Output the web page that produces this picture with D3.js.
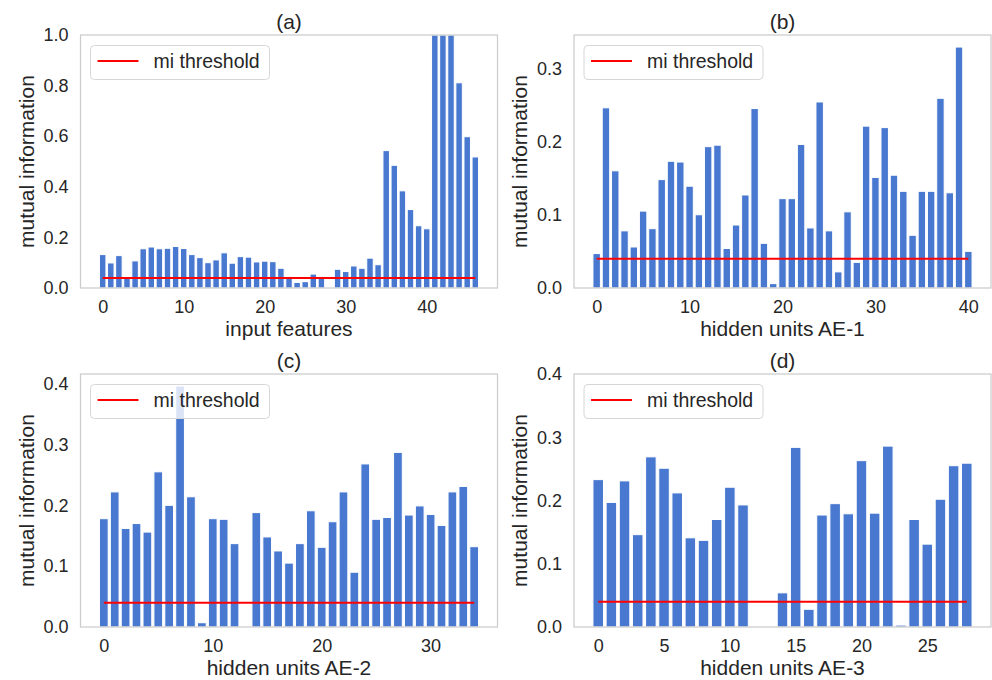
<!DOCTYPE html>
<html>
<head>
<meta charset="utf-8">
<script src="https://cdn.jsdelivr.net/npm/d3@7"></script>
<style>
  body { margin: 0; background: #fff; }
  text { font-family: "Liberation Sans", Arial, sans-serif; fill: #262626; }
</style>
</head>
<body>
<div id="plot"></div>
<script>
// mutual information per input feature / hidden unit
var miInput = [0.132, 0.099, 0.128, 0.041, 0.107, 0.155, 0.162, 0.155, 0.157, 0.164,
               0.156, 0.132, 0.120, 0.100, 0.111, 0.139, 0.098, 0.124, 0.122, 0.103,
               0.106, 0.104, 0.078, 0.045, 0.022, 0.025, 0.055, 0.045, 0.0, 0.074,
               0.065, 0.087, 0.078, 0.118, 0.092, 0.543, 0.485, 0.384, 0.310, 0.246,
               0.234, 1.0, 1.0, 1.0, 0.811, 0.598, 0.518];
var miAE1 = [0.047, 0.246, 0.160, 0.078, 0.056, 0.105, 0.081, 0.148, 0.173, 0.172,
             0.139, 0.100, 0.193, 0.195, 0.054, 0.086, 0.127, 0.245, 0.061, 0.006,
             0.122, 0.122, 0.196, 0.082, 0.254, 0.078, 0.022, 0.104, 0.035, 0.221,
             0.151, 0.219, 0.154, 0.132, 0.072, 0.132, 0.132, 0.259, 0.130, 0.329,
             0.050];
var miAE2 = [0.178, 0.222, 0.162, 0.170, 0.156, 0.255, 0.200, 0.396, 0.214, 0.007,
             0.178, 0.177, 0.137, 0.0, 0.188, 0.148, 0.125, 0.105, 0.137, 0.191,
             0.131, 0.173, 0.222, 0.090, 0.268, 0.177, 0.180, 0.287, 0.184, 0.199,
             0.185, 0.167, 0.222, 0.231, 0.132];
var miAE3 = [0.233, 0.197, 0.231, 0.146, 0.269, 0.251, 0.212, 0.141, 0.137, 0.170,
             0.221, 0.193, 0.0, 0.0, 0.054, 0.284, 0.028, 0.177, 0.195, 0.179,
             0.263, 0.180, 0.286, 0.003, 0.170, 0.131, 0.202, 0.255, 0.259];
var miThreshold = 0.04;

var xTicksA = [0, 10, 20, 30, 40];
var xTicksB = [0, 10, 20, 30, 40];
var xTicksC = [0, 10, 20, 30];
var xTicksD = [0, 5, 10, 15, 20, 25];
var yTicksA = [0, 0.2, 0.4, 0.6, 0.8, 1.0];
var yTicksB = [0, 0.1, 0.2, 0.3];
var yTicksC = [0, 0.1, 0.2, 0.3, 0.4];
var yTicksD = [0, 0.1, 0.2, 0.3, 0.4];

var width = 992, height = 680;
var pw = 417, ph = 253;
var barColor = "#4878d0";

var svg = d3.select("#plot")
  .append("svg")
    .attr("width", width)
    .attr("height", height);

var panels = [
  {title: "(a)", values: miInput, xTicks: xTicksA, yTicks: yTicksA, yMax: 1.0,  xLabel: "input features",   left: 80.5, top: 35},
  {title: "(b)", values: miAE1,   xTicks: xTicksB, yTicks: yTicksB, yMax: null, xLabel: "hidden units AE-1", left: 574,  top: 35},
  {title: "(c)", values: miAE2,   xTicks: xTicksC, yTicks: yTicksC, yMax: null, xLabel: "hidden units AE-2", left: 80.5, top: 374},
  {title: "(d)", values: miAE3,   xTicks: xTicksD, yTicks: yTicksD, yMax: 0.4,  xLabel: "hidden units AE-3", left: 574,  top: 374}
];

panels.forEach(function(p, k) {
  var n = p.values.length;
  var span = (n - 1) + 0.8;
  var x = d3.scaleLinear()
    .domain([-0.4 - 0.05 * span, n - 1 + 0.4 + 0.05 * span])
    .range([0, pw]);
  var yMax = p.yMax != null ? p.yMax : d3.max(p.values) * 1.05;
  var y = d3.scaleLinear()
    .domain([0, yMax])
    .range([ph, 0]);

  var g = svg.append("g")
    .attr("transform", "translate(" + p.left + "," + p.top + ")");

  g.append("clipPath")
    .attr("id", "clip" + k)
    .append("rect")
      .attr("width", pw)
      .attr("height", ph);

  // bars
  g.append("g")
    .attr("clip-path", "url(#clip" + k + ")")
    .selectAll("rect")
    .data(p.values)
    .enter()
    .append("rect")
      .attr("x", function(d, i) { return x(i - 0.4); })
      .attr("y", function(d) { return y(d); })
      .attr("width", function(d, i) { return x(i + 0.4) - x(i - 0.4); })
      .attr("height", function(d) { return y(0) - y(d); })
      .style("fill", barColor)
      .style("stroke", "#fff")
      .style("stroke-width", 1);

  // threshold
  g.append("line")
    .attr("x1", x(0))
    .attr("x2", x(n - 1))
    .attr("y1", y(miThreshold))
    .attr("y2", y(miThreshold))
    .style("stroke", "#ff0000")
    .style("stroke-width", 2);

  // axes
  var xAxis = g.append("g")
    .attr("transform", "translate(0," + ph + ")")
    .call(d3.axisBottom(x).tickValues(p.xTicks).tickSize(0).tickPadding(12.5).tickFormat(d3.format("d")));
  var yAxis = g.append("g")
    .call(d3.axisLeft(y).tickValues(p.yTicks).tickSize(0).tickPadding(12).tickFormat(d3.format(".1f")));
  [xAxis, yAxis].forEach(function(a) {
    a.select(".domain").remove();
    a.selectAll("text")
      .style("font-size", "18px")
      .style("fill", "#262626")
      .style("font-family", "'Liberation Sans', Arial, sans-serif");
  });

  // frame
  g.append("rect")
    .attr("width", pw)
    .attr("height", ph)
    .style("fill", "none")
    .style("stroke", "#cccccc")
    .style("stroke-width", 1.25);

  // legend
  var lg = g.append("g")
    .attr("transform", "translate(10,10.5)");
  lg.append("rect")
    .attr("width", 179)
    .attr("height", 34)
    .attr("rx", 4)
    .style("fill", "#fff")
    .style("fill-opacity", 0.8)
    .style("stroke", "#d6d6d6");
  lg.append("line")
    .attr("x1", 7).attr("x2", 48)
    .attr("y1", 15.5).attr("y2", 15.5)
    .style("stroke", "#ff0000")
    .style("stroke-width", 2);
  lg.append("text")
    .attr("x", 63)
    .attr("y", 22.5)
    .style("font-size", "19.5px")
    .text("mi threshold");

  // labels
  g.append("text")
    .attr("x", pw / 2)
    .attr("y", -6)
    .attr("text-anchor", "middle")
    .style("font-size", "21px")
    .text(p.title);
  g.append("text")
    .attr("x", pw / 2)
    .attr("y", ph + 48)
    .attr("text-anchor", "middle")
    .style("font-size", "21px")
    .text(p.xLabel);
  g.append("text")
    .attr("transform", "rotate(-90)")
    .attr("x", -ph / 2)
    .attr("y", -47)
    .attr("text-anchor", "middle")
    .style("font-size", "21px")
    .text("mutual information");
});
</script>
</body>
</html>
